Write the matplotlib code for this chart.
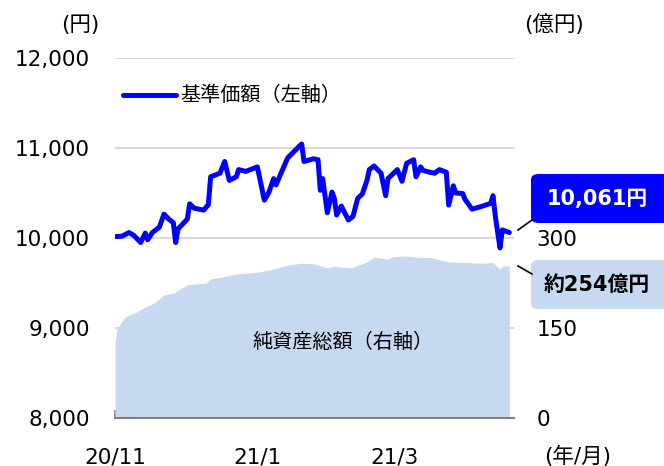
import pandas as pd
import matplotlib
matplotlib.use("Agg")
import matplotlib.pyplot as plt
from matplotlib.patches import FancyBboxPatch
from matplotlib.lines import Line2D

plt.rcParams['font.family'] = ['DejaVu Sans', 'Noto Sans CJK JP']

# 基準価額 (円)
nav_dates = ["2020-11-01", "2020-11-04", "2020-11-07", "2020-11-09", "2020-11-12", "2020-11-14",
             "2020-11-15", "2020-11-17", "2020-11-20", "2020-11-22", "2020-11-24", "2020-11-26",
             "2020-11-27", "2020-11-28", "2020-12-02", "2020-12-03", "2020-12-05", "2020-12-09",
             "2020-12-11", "2020-12-12", "2020-12-16", "2020-12-18", "2020-12-20", "2020-12-23",
             "2020-12-24", "2020-12-27", "2021-01-01", "2021-01-04", "2021-01-06", "2021-01-08",
             "2021-01-09", "2021-01-14", "2021-01-20", "2021-01-21", "2021-01-25", "2021-01-27",
             "2021-01-28", "2021-01-29", "2021-01-31", "2021-02-02", "2021-02-03", "2021-02-04",
             "2021-02-06", "2021-02-09", "2021-02-11", "2021-02-13", "2021-02-15", "2021-02-17",
             "2021-02-18", "2021-02-20", "2021-02-23", "2021-02-25", "2021-02-26", "2021-03-02",
             "2021-03-04", "2021-03-06", "2021-03-09", "2021-03-10", "2021-03-12", "2021-03-13",
             "2021-03-16", "2021-03-18", "2021-03-20", "2021-03-23", "2021-03-24", "2021-03-26",
             "2021-03-27", "2021-03-30", "2021-03-31", "2021-04-03", "2021-04-07", "2021-04-11",
             "2021-04-12", "2021-04-13", "2021-04-15", "2021-04-16", "2021-04-19"]
nav_values = [10015, 10020, 10060, 10030, 9950, 10055,
              9980, 10060, 10120, 10265, 10210, 10170,
              9950, 10100, 10210, 10380, 10330, 10310,
              10370, 10680, 10720, 10850, 10640, 10680,
              10760, 10740, 10790, 10420, 10510, 10660,
              10590, 10890, 11045, 10850, 10880, 10870,
              10530, 10660, 10280, 10510, 10440, 10255,
              10355, 10200, 10240, 10440, 10490, 10640,
              10760, 10800, 10720, 10470, 10660, 10760,
              10630, 10830, 10870, 10680, 10790, 10750,
              10730, 10720, 10760, 10730, 10365, 10580,
              10500, 10495, 10430, 10320, 10350, 10385,
              10470, 10240, 9890, 10090, 10061]

# 純資産総額 (億円)
aum_dates = ["2020-11-01", "2020-11-02", "2020-11-05", "2020-11-07", "2020-11-10", "2020-11-14",
             "2020-11-18", "2020-11-22", "2020-11-26", "2020-12-02", "2020-12-10", "2020-12-12",
             "2020-12-17", "2020-12-23", "2021-01-01", "2021-01-08", "2021-01-14", "2021-01-20",
             "2021-01-25", "2021-01-27", "2021-01-31", "2021-02-03", "2021-02-10", "2021-02-17",
             "2021-02-20", "2021-02-26", "2021-02-28", "2021-03-06", "2021-03-10", "2021-03-17",
             "2021-03-24", "2021-03-31", "2021-04-06", "2021-04-12", "2021-04-15", "2021-04-16",
             "2021-04-19"]
aum_values = [125, 150, 167, 172, 176, 185,
              192, 205, 208, 222, 225, 232,
              235, 240, 243, 248, 255, 258,
              257, 255, 250, 253, 250, 260,
              268, 265, 269, 270, 268, 267,
              260, 259, 258, 259, 248, 253,
              254]

left_ticks = [8000, 9000, 10000, 11000, 12000]
right_ticks = [0, 150, 300, 450, 600]
x_ticks = ["2020-11-01", "2021-01-01", "2021-03-01"]
x_labels = ["20/11", "21/1", "21/3"]

nav_x = pd.to_datetime(nav_dates)
aum_x = pd.to_datetime(aum_dates)

W, H = 664, 466
fig = plt.figure(figsize=(W / 100, H / 100), dpi=100)
ax2 = fig.add_axes([115 / W, 1 - 418 / H, 399 / W, 360 / H])
ax = ax2.twinx()
ax.set_zorder(ax2.get_zorder() + 1)
ax.patch.set_visible(False)

blue = "#0000FF"
light = "#C6D9F0"
grey = "#D9D9D9"
NUM = 15.5   # number font size
JP = 14.5    # japanese text size

# net assets area (right axis)
ax2.fill_between(aum_x, 0, aum_values, color=light, lw=0, zorder=2)
ax2.set_ylim(0, 600)
ax2.set_yticks(right_ticks)
ax2.yaxis.grid(True, color=grey, lw=1.5, zorder=0)
ax2.set_axisbelow(True)
ax2.yaxis.tick_right()
ax2.set_yticklabels(["0", "150", "300", "", ""], fontsize=NUM)
ax2.tick_params(axis="y", length=0, pad=16)

# NAV line (left axis)
ax.plot(nav_x, nav_values, color=blue, lw=3.6, solid_capstyle="round", solid_joinstyle="round")
ax.set_ylim(8000, 12000)
ax.set_yticks(left_ticks)
ax.yaxis.tick_left()
ax.set_yticklabels([f"{v:,}" for v in left_ticks], fontsize=NUM)
ax.tick_params(axis="y", length=0, pad=18)

xmin, xmax = pd.Timestamp("2020-11-01"), pd.Timestamp("2021-04-21")
ax2.set_xlim(xmin, xmax)
for a in (ax, ax2):
    for s in ("left", "right", "top", "bottom"):
        a.spines[s].set_visible(False)
ax2.spines["bottom"].set_visible(True)
ax2.spines["bottom"].set_color("#808080")
ax2.spines["bottom"].set_linewidth(1.5)
ax2.set_xticks(pd.to_datetime(x_ticks))
ax2.set_xticklabels(x_labels, fontsize=NUM)
ax2.tick_params(axis="x", direction="in", length=6, width=1.2, color="#808080", pad=21)
ax.tick_params(axis="x", bottom=False, labelbottom=False)

# unit labels
fig.text(80 / W, 1 - 25 / H, "(円)", fontsize=NUM, ha="center", va="center")
fig.text(554 / W, 1 - 25 / H, "(億円)", fontsize=NUM, ha="center", va="center")
fig.text(578 / W, 1 - 456 / H, "(年/月)", fontsize=NUM, ha="center", va="center")

# legend
fig.add_artist(Line2D([123 / W, 176 / W], [1 - 95 / H, 1 - 95 / H], color=blue, lw=3.6,
                      solid_capstyle="round"))
fig.text(180 / W, 1 - 95 / H, "基準価額（左軸）", fontsize=JP, ha="left", va="center")

# area label
fig.text(343 / W, 1 - 342 / H, "純資産総額（右軸）", fontsize=JP, ha="center", va="center")

# callout boxes
def callout(y0, y1, face, text, tcolor, ly):
    box = FancyBboxPatch((531 / W, 1 - y1 / H), 140 / W, (y1 - y0) / H,
                         boxstyle="round,pad=0,rounding_size=0.012",
                         transform=fig.transFigure, fc=face, ec="none")
    fig.add_artist(box)
    fig.text(597 / W, 1 - (y0 + y1) / 2 / H, text, fontsize=15, fontweight="bold",
             color=tcolor, ha="center", va="center")
    fig.add_artist(Line2D([518 / W, 532 / W], [1 - ly[0] / H, 1 - ly[1] / H], color="black", lw=1.2))

callout(174, 223, blue, f"{nav_values[-1]:,}円", "white", (230, 220))
callout(260, 309, light, f"約{aum_values[-1]}億円", "black", (266, 274))

fig.savefig("out.png", dpi=100)
